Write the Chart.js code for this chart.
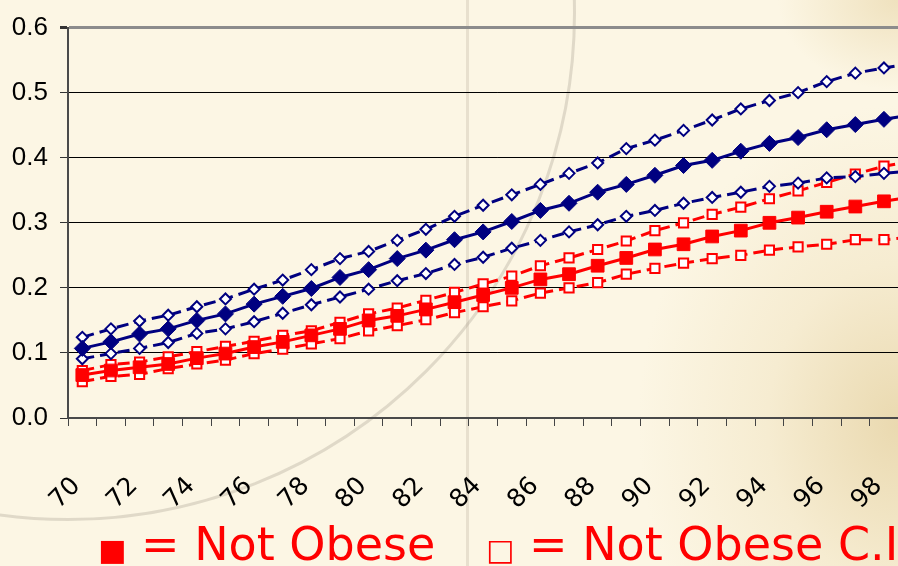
<!DOCTYPE html>
<html>
<head>
<meta charset="utf-8">
<script src="https://cdn.jsdelivr.net/npm/chart.js@4"></script>
<style>
  html, body { margin: 0; padding: 0; overflow: hidden; }
  body {
    width: 898px; height: 566px; position: relative;
    background:
      radial-gradient(ellipse 260px 320px at 100% 75%, rgba(232, 214, 170, 0.9) 0%, rgba(240, 226, 190, 0.5) 50%, rgba(252, 246, 228, 0) 100%),
      radial-gradient(ellipse 120px 90px at 100% 0%, rgba(236, 220, 180, 0.8) 0%, rgba(252, 246, 228, 0) 100%),
      #fcf6e4;
  }
  .arc {
    position: absolute; left: -440px; top: -495px; width: 1010px; height: 1010px;
    border-radius: 50%; border: 3px solid rgba(150, 145, 130, 0.28);
  }
  .vline {
    position: absolute; left: 466px; top: 0; width: 3px; height: 566px;
    background: rgba(170, 160, 140, 0.25);
  }
  #chart { position: absolute; left: 0; top: 0; }
  .key {
    position: absolute; top: 521px; color: #ff0000; white-space: pre;
    font-family: "DejaVu Sans", sans-serif; font-size: 46px; line-height: 46px;
  }
  .mark { font-size: 30px; }
</style>
</head>
<body>
<div class="arc"></div>
<div class="vline"></div>
<canvas id="chart" width="974" height="566"></canvas>
<div class="key" style="left:98px"><span class="mark">■</span> = Not Obese</div>
<div class="key" style="left:486px"><span class="mark">□</span> = Not Obese C.I.</div>
<script>
const ages = [70, 71, 72, 73, 74, 75, 76, 77, 78, 79, 80, 81, 82, 83, 84,
              85, 86, 87, 88, 89, 90, 91, 92, 93, 94, 95, 96, 97, 98, 99];
const tickLabels = ['70', '72', '74', '76', '78', '80', '82', '84', '86', '88', '90', '92', '94', '96', '98'];

// obese estimate and its confidence limits
const obese = [0.107, 0.117, 0.129, 0.137, 0.150, 0.160, 0.175, 0.187, 0.199, 0.216, 0.228, 0.245, 0.258, 0.274, 0.286,
               0.302, 0.319, 0.330, 0.347, 0.359, 0.373, 0.388, 0.396, 0.410, 0.422, 0.431, 0.443, 0.451, 0.459, 0.466];
const obeseHigh = [0.124, 0.137, 0.149, 0.158, 0.171, 0.183, 0.198, 0.212, 0.228, 0.245, 0.256, 0.273, 0.290, 0.310, 0.327,
                   0.343, 0.359, 0.376, 0.392, 0.414, 0.427, 0.442, 0.458, 0.475, 0.488, 0.500, 0.517, 0.530, 0.538, 0.545];
const obeseLow = [0.091, 0.099, 0.107, 0.116, 0.130, 0.137, 0.148, 0.161, 0.174, 0.186, 0.198, 0.211, 0.222, 0.236, 0.247,
                  0.261, 0.273, 0.286, 0.297, 0.310, 0.319, 0.330, 0.339, 0.347, 0.356, 0.361, 0.369, 0.371, 0.376, 0.380];

// not obese estimate and its confidence limits
const notObese = [0.066, 0.073, 0.078, 0.083, 0.092, 0.099, 0.109, 0.117, 0.127, 0.137, 0.150, 0.157, 0.167, 0.178, 0.189,
                  0.200, 0.213, 0.221, 0.234, 0.246, 0.259, 0.267, 0.279, 0.288, 0.300, 0.308, 0.317, 0.325, 0.333, 0.340];
const notObeseHigh = [0.073, 0.082, 0.086, 0.094, 0.102, 0.110, 0.118, 0.127, 0.134, 0.147, 0.160, 0.169, 0.181, 0.193, 0.206,
                      0.218, 0.234, 0.246, 0.259, 0.272, 0.288, 0.300, 0.313, 0.324, 0.337, 0.349, 0.362, 0.375, 0.387, 0.395];
const notObeseLow = [0.056, 0.064, 0.067, 0.076, 0.083, 0.089, 0.099, 0.106, 0.114, 0.122, 0.134, 0.142, 0.151, 0.162, 0.171,
                     0.180, 0.192, 0.200, 0.208, 0.221, 0.230, 0.238, 0.245, 0.250, 0.258, 0.263, 0.267, 0.274, 0.274, 0.278];

const NAVY = '#000080';
const RED = '#ff0000';

function solid(label, data, color, shape, r) {
  return {
    label, data, borderColor: color, backgroundColor: color, borderWidth: 3,
    pointStyle: shape, pointRadius: r, pointBackgroundColor: color, pointBorderColor: color,
    pointBorderWidth: 1, tension: 0
  };
}

function dashed(label, data, color, shape, r) {
  return {
    label, data, borderColor: color, backgroundColor: '#ffffff', borderWidth: 3, borderDash: [12, 6],
    pointStyle: shape, pointRadius: r, pointBackgroundColor: '#ffffff', pointBorderColor: color,
    pointBorderWidth: 2, tension: 0
  };
}

new Chart(document.getElementById('chart'), {
  type: 'line',
  data: {
    labels: ages,
    datasets: [
      solid('Obese', obese, NAVY, 'rectRot', 8),
      dashed('Obese C.I. high', obeseHigh, NAVY, 'rectRot', 5.5),
      dashed('Obese C.I. low', obeseLow, NAVY, 'rectRot', 5.5),
      solid('Not Obese', notObese, RED, 'rect', 9),
      dashed('Not Obese C.I. high', notObeseHigh, RED, 'rect', 6.5),
      dashed('Not Obese C.I. low', notObeseLow, RED, 'rect', 6.5)
    ]
  },
  options: {
    responsive: false,
    animation: false,
    layout: { padding: { top: 17, right: 12, left: 0, bottom: 0 } },
    plugins: { legend: { display: false }, tooltip: { enabled: false } },
    scales: {
      x: {
        type: 'category',
        offset: true,
        afterFit: (s) => { s.height = 148; },
        border: { color: '#4a4a4a', width: 2 },
        grid: { drawOnChartArea: false, drawTicks: true, tickLength: 8, color: '#444', offset: true },
        ticks: {
          autoSkip: false, minRotation: 45, maxRotation: 45, padding: 40, color: '#000',
          font: { family: '"DejaVu Sans", sans-serif', size: 25 },
          // trailing space nudges each rotated label down-left, as in the original
          callback: function (v) {
            const t = String(this.getLabelForValue(v));
            return tickLabels.includes(t) ? t + ' ' : '';
          }
        }
      },
      y: {
        min: 0, max: 0.6,
        afterFit: (s) => { s.width = 68; },
        border: { color: '#4a4a4a', width: 2 },
        grid: {
          color: (c) => c.tick.value > 0.59 ? '#8c8c8c' : '#000',
          lineWidth: (c) => c.tick.value > 0.59 ? 3 : 1,
          tickColor: '#333', tickLength: 8
        },
        ticks: {
          stepSize: 0.1, padding: 12, color: '#000',
          font: { family: '"Liberation Sans Narrow", "Arial Narrow", "Liberation Sans", sans-serif', size: 26 },
          callback: (v) => v.toFixed(1)
        }
      }
    }
  }
});
</script>
</body>
</html>
